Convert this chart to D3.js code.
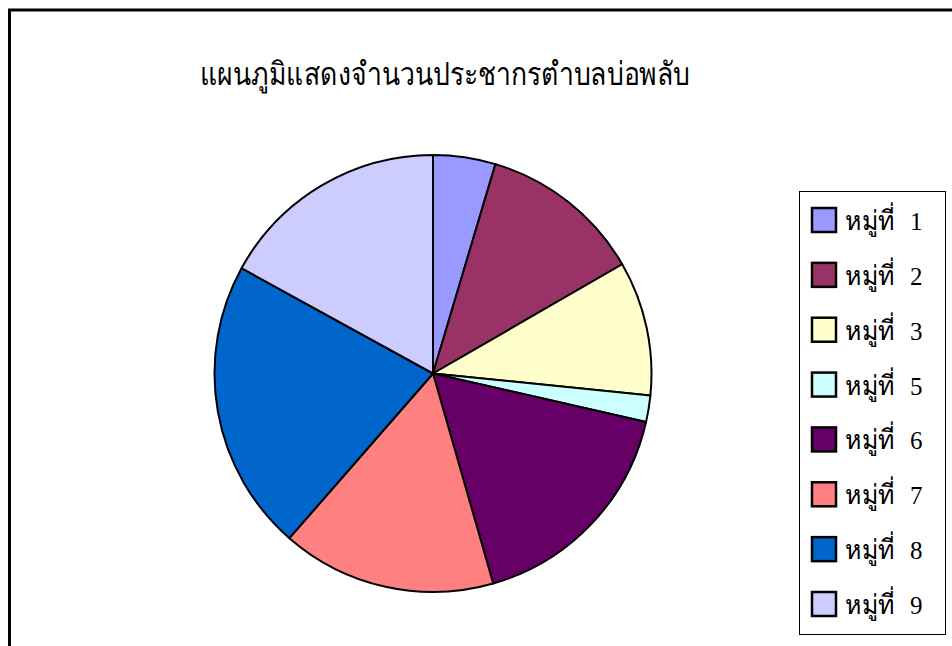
<!DOCTYPE html>
<html>
<head>
<meta charset="utf-8">
<script src="https://cdn.jsdelivr.net/npm/d3@7"></script>
<style>
  html, body { margin: 0; padding: 0; background: #fff; overflow: hidden; }
  text { font-family: "Liberation Serif", "Times New Roman", serif; }
</style>
</head>
<body>
<div id="chart"></div>
<script>
/**
 * DATA
 * */
const title = "แผนภูมิแสดงจำนวนประชากรตำบลบ่อพลับ";
const villages = ["หมู่ที่ 1", "หมู่ที่ 2", "หมู่ที่ 3", "หมู่ที่ 5", "หมู่ที่ 6", "หมู่ที่ 7", "หมู่ที่ 8", "หมู่ที่ 9"];
const population = [166, 434, 358, 70, 612, 571, 777, 612];
const colors = ["#9999ff", "#993366", "#ffffcc", "#ccffff", "#660066", "#ff8080", "#0066cc", "#ccccff"];

/**
 * CONSTANTS
 * */
const width = 952,
  height = 646;

const svg = d3.select("#chart")
  .append("svg")
  .attr("width", width)
  .attr("height", height);

// outer frame (runs off the bottom / right of the picture)
svg.append("rect")
  .attr("x", 9.5)
  .attr("y", 10)
  .attr("width", 960)
  .attr("height", 700)
  .attr("fill", "#fff")
  .attr("stroke", "#000")
  .attr("stroke-width", 3);

// thai falls back to a wider sans face here, so squeeze it to the original width
svg.append("text")
  .attr("x", 200)
  .attr("y", 85)
  .attr("font-size", 32)
  .attr("textLength", 490)
  .attr("lengthAdjust", "spacingAndGlyphs")
  .text(title);

const colorScale = d3.scaleOrdinal().domain(villages).range(colors);

const pie = d3.pie()
  .sort(null)
  .value(d => d.value);

const arc = d3.arc()
  .innerRadius(0)
  .outerRadius(218.5);

const data = villages.map((v, i) => ({ name: v, value: population[i] }));

const g = svg.append("g")
  .attr("transform", "translate(433,373.5)");

g.selectAll("path")
  .data(pie(data))
  .join("path")
  .attr("d", arc)
  .attr("fill", d => colorScale(d.data.name))
  .attr("stroke", "#000")
  .attr("stroke-width", 2)
  .attr("stroke-linejoin", "round");

// + LEGEND
const legend = svg.append("g");

legend.append("rect")
  .attr("x", 799.5)
  .attr("y", 191.5)
  .attr("width", 146)
  .attr("height", 443)
  .attr("fill", "#fff")
  .attr("stroke", "#000")
  .attr("stroke-width", 1);

const yLegend = d3.scalePoint()
  .domain(villages)
  .range([220, 604]);

const item = legend.selectAll("g.item")
  .data(villages)
  .join("g")
  .attr("class", "item")
  .attr("transform", d => `translate(0,${yLegend(d)})`);

item.append("rect")
  .attr("x", 812)
  .attr("y", -12)
  .attr("width", 24)
  .attr("height", 24)
  .attr("fill", d => colorScale(d))
  .attr("stroke", "#000")
  .attr("stroke-width", 2.5);

item.append("text")
  .attr("x", 845)
  .attr("y", 10)
  .attr("font-size", 27)
  .attr("textLength", 50)
  .attr("lengthAdjust", "spacingAndGlyphs")
  .text(d => d.split(" ")[0]);

item.append("text")
  .attr("x", 910)
  .attr("y", 10)
  .attr("font-size", 25)
  .text(d => d.split(" ")[1]);
</script>
</body>
</html>
